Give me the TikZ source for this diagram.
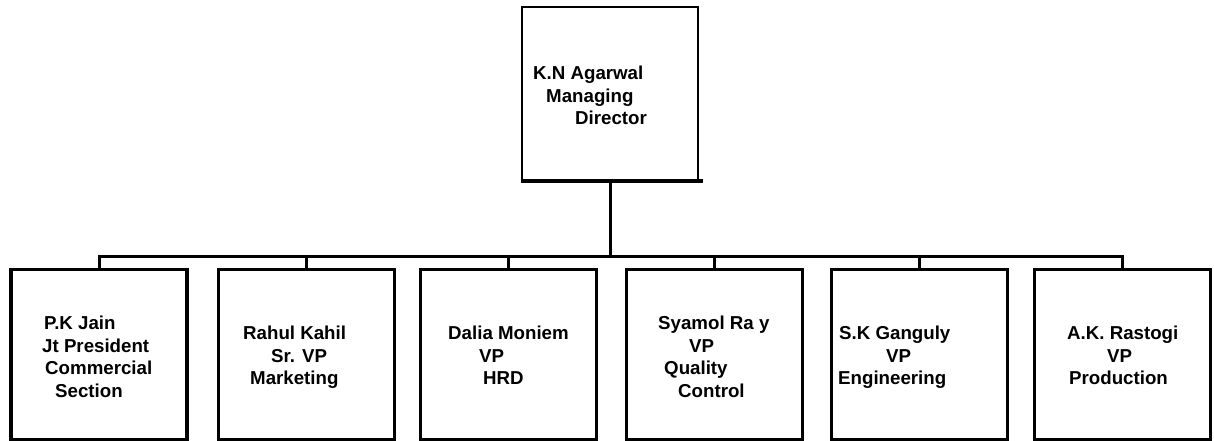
\documentclass[tikz,border=0pt]{standalone}
\usepackage{fontspec}
\setmainfont{Liberation Sans}
\begin{document}
\begin{tikzpicture}[x=1pt,y=-1pt,
  boxstyle/.style={draw,line width=3.2pt,minimum width=176pt,minimum height=170pt,inner sep=0pt},
  topstyle/.style={draw,line width=2pt,minimum width=176pt,minimum height=173pt,inner sep=0pt},
  label/.style={anchor=north west,align=left,inner sep=0pt,font=\fontsize{18.7}{22.5}\selectfont\bfseries},
  conn/.style={line width=3pt}]
\useasboundingbox (0,0) rectangle (1214,441);
\node[topstyle] (top) at (610,93.5) {};
\draw[line width=3.5pt] (top.south west) -- ([xshift=4pt]top.south east);
\node[label] (ttop) at (533,66) {K.N Agarwal\\\hspace*{13pt}Managing\\\hspace*{42pt}Director};
\node[boxstyle] (b1) at (99,354.5) {};
\node[boxstyle] (b2) at (306.5,354.5) {};
\node[boxstyle] (b3) at (508.5,354.5) {};
\node[boxstyle] (b4) at (714.5,354.5) {};
\node[boxstyle] (b5) at (919.5,354.5) {};
\node[boxstyle] (b6) at (1122.5,354.5) {};
\coordinate (bus) at (0,256);
\foreach \b in {b1,b2,b3,b4,b5,b6}
  \draw[conn] (top.south) -- (top.south |- bus) -| (\b.north);
\node[label] (t1) at (42,316) {\hspace*{2pt}P.K Jain\\Jt President\\\hspace*{3pt}Commercial\\\hspace*{13pt}Section};
\node[label] (t2) at (243,326) {Rahul Kahil\\\hspace*{28pt}Sr. VP\\\hspace*{7pt}Marketing};
\node[label] (t3) at (448,326) {Dalia Moniem\\\hspace*{31pt}VP\\\hspace*{35pt}HRD};
\node[label] (t4) at (658,316) {Syamol Ra y\\\hspace*{31pt}VP\\\hspace*{6pt}Quality\\\hspace*{20pt}Control};
\node[label] (t5) at (838,326) {\hspace*{1pt}S.K Ganguly\\\hspace*{48pt}VP\\Engineering};
\node[label] (t6) at (1067,326) {A.K. Rastogi\\\hspace*{40pt}VP\\\hspace*{2pt}Production};
\end{tikzpicture}
\end{document}
